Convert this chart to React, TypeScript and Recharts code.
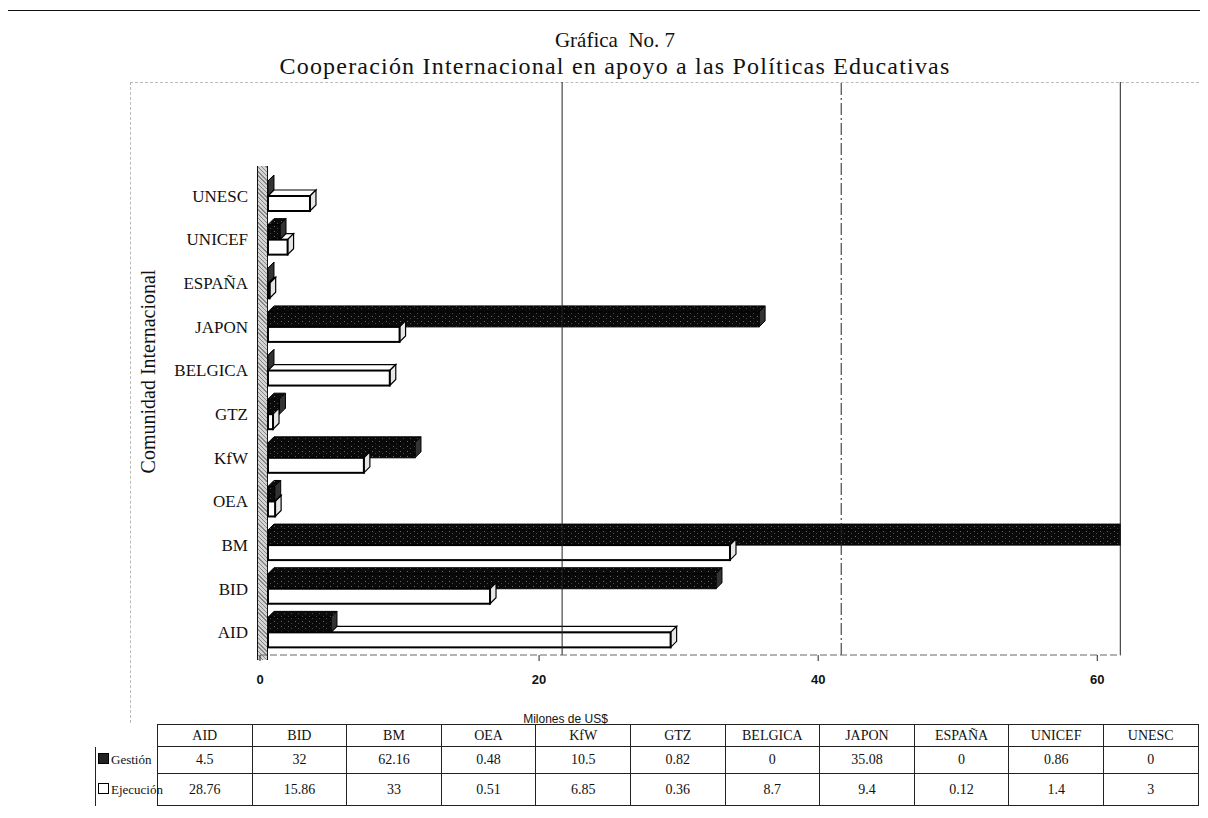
import React from 'react';
import { BarChart, Bar, XAxis, YAxis, ReferenceLine } from 'recharts';

const categories = ['AID', 'BID', 'BM', 'OEA', 'KfW', 'GTZ', 'BELGICA', 'JAPON', 'ESPAÑA', 'UNICEF', 'UNESC'];
const gestion = [4.5, 32, 62.16, 0.48, 10.5, 0.82, 0, 35.08, 0, 0.86, 0];
const ejecucion = [28.76, 15.86, 33, 0.51, 6.85, 0.36, 8.7, 9.4, 0.12, 1.4, 3];
const xTicks = [0, 20, 40, 60];
const gridTicks = [20, 40, 60];

const data = categories.map((name, i) => ({ name, gestion: gestion[i], ejecucion: ejecucion[i] }));

const SERIF = "'Liberation Serif', 'Times New Roman', serif";
const SANS = "'Liberation Sans', Arial, sans-serif";
const D = 6; // depth of the fake 3d

const GestionShape = (props: any) => {
  const { x, y, width, height } = props;
  const w = Math.max(0, width);
  return (
    <g>
      <polygon
        points={`${x},${y} ${x + D},${y - D} ${x + w + D},${y - D} ${x + w},${y}`}
        fill="url(#speck)"
        stroke="#000"
        strokeWidth={1}
      />
      <polygon
        points={`${x + w},${y} ${x + w + D},${y - D} ${x + w + D},${y + height - D} ${x + w},${y + height}`}
        fill="#333"
        stroke="#000"
        strokeWidth={1}
      />
      <rect x={x} y={y} width={w} height={height} fill="url(#speck)" stroke="#000" strokeWidth={1} />
    </g>
  );
};

const EjecucionShape = (props: any) => {
  const { x, y, width, height, payload } = props;
  const w = Math.max(0, width);
  // the top face hides behind the Gestión bar where that one is longer
  let gw = 0;
  if (payload && payload.ejecucion > 0) gw = (payload.gestion / payload.ejecucion) * w;
  const tx = x + Math.min(gw, w);
  return (
    <g>
      {gw < w && (
        <polygon
          points={`${tx},${y} ${tx + D},${y - D} ${x + w + D},${y - D} ${x + w},${y}`}
          fill="#fff"
          stroke="#000"
          strokeWidth={1.2}
        />
      )}
      <polygon
        points={`${x + w},${y} ${x + w + D},${y - D} ${x + w + D},${y + height - D} ${x + w},${y + height}`}
        fill="#e6e6e6"
        stroke="#000"
        strokeWidth={1.2}
      />
      <rect x={x} y={y} width={w} height={height} fill="#fff" stroke="#000" strokeWidth={2} />
    </g>
  );
};

const cellBase: React.CSSProperties = {
  border: '1px solid #222',
  textAlign: 'center',
  fontFamily: SERIF,
  fontSize: 14,
  color: '#111',
  padding: 0,
};

const legendCell: React.CSSProperties = {
  ...cellBase,
  textAlign: 'left',
  fontSize: 13,
  whiteSpace: 'nowrap',
  borderRight: 'none',
  borderTop: 'none',
  borderBottom: 'none',
};

export default function App() {
  return (
    <div style={{ position: 'relative', width: 1208, height: 818, margin: -8, background: '#fff', overflow: 'hidden' }}>
      {/* outer frame */}
      <div style={{ position: 'absolute', left: 3, top: 10, width: 1197, height: 820, border: '1.5px solid #111', borderBottom: 'none' }} />
      {/* faint plot-area frame */}
      <div style={{ position: 'absolute', left: 130, top: 82, width: 1068, height: 640, borderLeft: '1px dashed #bbb', borderTop: '1px dashed #bbb' }} />

      <div style={{ position: 'absolute', left: 0, width: 1230, top: 28, textAlign: 'center', fontFamily: SERIF, fontSize: 21, color: '#111', lineHeight: '24px' }}>
        Gráfica&nbsp; No. 7
      </div>
      <div style={{ position: 'absolute', left: 0, width: 1230, top: 53, textAlign: 'center', fontFamily: SERIF, fontSize: 24, letterSpacing: 1.2, color: '#111', lineHeight: '26px' }}>
        Cooperación Internacional en apoyo a las Políticas Educativas
      </div>

      {/* back wall */}
      <div
        style={{
          position: 'absolute',
          left: 257,
          top: 166,
          width: 9,
          height: 494,
          background: 'repeating-linear-gradient(45deg, #888 0 1px, #d4d4d4 1px 3px)',
          borderLeft: '1.5px solid #111',
          borderRight: '1.5px solid #111',
        }}
      />

      <div style={{ position: 'absolute', left: 0, top: 0 }}>
        <BarChart
          width={1208}
          height={740}
          data={data}
          layout="vertical"
          margin={{ top: 82, right: 87, bottom: 10, left: 0 }}
          barGap={0}
          barSize={15}
        >
          <defs>
            <pattern id="speck" width="7" height="5" patternUnits="userSpaceOnUse">
              <rect width="7" height="5" fill="#0a0a0a" />
              <rect x="1" y="1" width="1" height="1" fill="#6a6a6a" />
              <rect x="4" y="3" width="1" height="1" fill="#4a4a4a" />
            </pattern>
          </defs>
          {/* gridlines on the back wall sit a little to the right of the front scale */}
          <XAxis xAxisId="back" type="number" domain={[-1.65, 60.05]} ticks={gridTicks} hide allowDataOverflow />
          {gridTicks.map((t) => (
            <ReferenceLine
              key={t}
              xAxisId="back"
              x={t}
              stroke="#222"
              strokeWidth={1}
              strokeDasharray={t === 40 ? '12 3 2 3' : undefined}
              ifOverflow="extendDomain"
            />
          ))}
          {/* bars start at the face of the wall */}
          <XAxis xAxisId="bars" type="number" domain={[-0.57, 60.93]} hide allowDataOverflow />
          <XAxis
            type="number"
            domain={[0, 61.7]}
            ticks={xTicks}
            allowDataOverflow
            height={75}
            axisLine={{ stroke: '#666', strokeDasharray: '7 3' }}
            tickLine={{ stroke: '#222' }}
            tickSize={6}
            tick={{ fontFamily: SANS, fontSize: 13, fontWeight: 700, fill: '#111', dy: 12 }}
            label={{ value: 'Milones de US$', position: 'insideBottom', offset: 7, dx: -125, style: { fontFamily: SANS, fontSize: 12, fill: '#111' } }}
          />
          <YAxis
            type="category"
            dataKey="name"
            reversed
            width={260}
            padding={{ top: 92, bottom: 1 }}
            axisLine={false}
            tickLine={false}
            tick={{ fontFamily: SERIF, fontSize: 17, fill: '#111', dx: -4 }}
            label={{ value: 'Comunidad Internacional', angle: -90, position: 'insideLeft', offset: 148, dy: 3, style: { fontFamily: SERIF, fontSize: 20, fill: '#111', textAnchor: 'middle' } }}
          />
          <Bar xAxisId="bars" dataKey="gestion" name="Gestión" isAnimationActive={false} shape={GestionShape} />
          <Bar xAxisId="bars" dataKey="ejecucion" name="Ejecución" isAnimationActive={false} shape={EjecucionShape} />
        </BarChart>
      </div>

      {/* data table */}
      <table
        style={{
          position: 'absolute',
          left: 95,
          top: 724,
          borderCollapse: 'collapse',
          tableLayout: 'fixed',
          width: 1103,
        }}
      >
        <colgroup>
          <col style={{ width: 62 }} />
          {categories.map((c) => (
            <col key={c} style={{ width: 94.6 }} />
          ))}
        </colgroup>
        <tbody>
          <tr style={{ height: 22 }}>
            <td style={{ ...cellBase, border: 'none' }} />
            {categories.map((c) => (
              <td key={c} style={cellBase}>{c}</td>
            ))}
          </tr>
          <tr style={{ height: 27 }}>
            <td style={legendCell}>
              <span style={{ display: 'inline-block', width: 9, height: 9, background: '#222', border: '1px solid #000', marginRight: 2, marginLeft: 2 }} />
              Gestión
            </td>
            {gestion.map((v, i) => (
              <td key={i} style={cellBase}>{v}</td>
            ))}
          </tr>
          <tr style={{ height: 32 }}>
            <td style={legendCell}>
              <span style={{ display: 'inline-block', width: 9, height: 9, background: '#fff', border: '1.5px solid #000', marginRight: 2, marginLeft: 2 }} />
              Ejecución
            </td>
            {ejecucion.map((v, i) => (
              <td key={i} style={cellBase}>{v}</td>
            ))}
          </tr>
        </tbody>
      </table>
    </div>
  );
}
